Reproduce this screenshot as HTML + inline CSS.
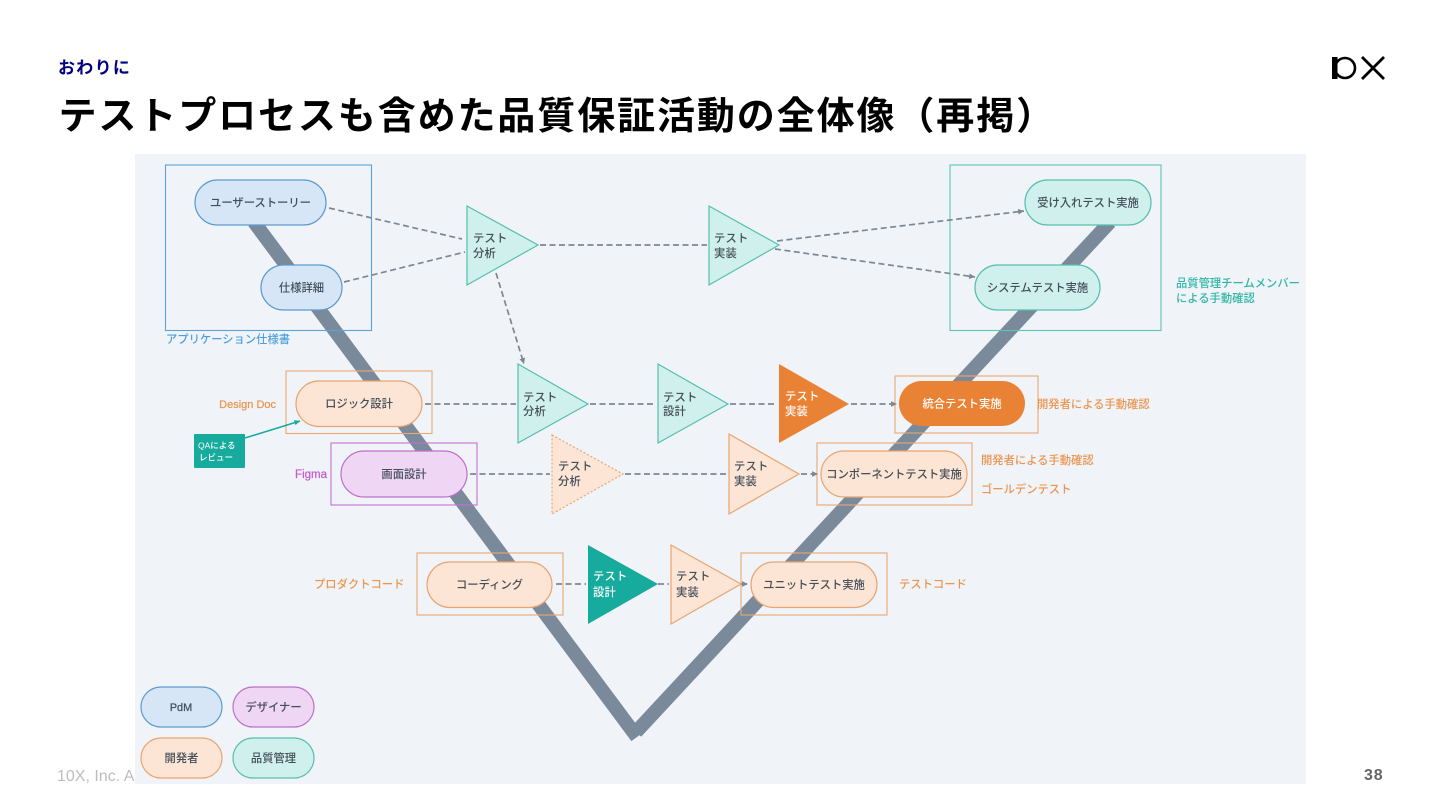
<!DOCTYPE html>
<html lang="ja"><head><meta charset="utf-8"><title>テストプロセスも含めた品質保証活動の全体像（再掲）</title>
<style>
html,body{margin:0;padding:0;background:#fff;width:1440px;height:810px;overflow:hidden}
svg{display:block;position:absolute;left:0;top:0}
text{font-family:"Liberation Sans","Noto Sans CJK JP",sans-serif}
.n{font-size:11.3px;fill:#444e5a;text-anchor:middle;dominant-baseline:central;font-weight:500}
.t{font-size:11.3px;fill:#444e5a;dominant-baseline:central;letter-spacing:.2px;font-weight:500}
.w{fill:#fff}
.l{font-size:11.3px;dominant-baseline:central;font-weight:500}
.d{stroke:#7d8794;stroke-width:1.7;stroke-dasharray:6 3.500;fill:none}
.blue{fill:#d6e6f7;stroke:#5b9bd0;stroke-width:1.2}
.mag{fill:#f0d6f5;stroke:#bd6fcb;stroke-width:1.2}
.or{fill:#fce5d4;stroke:#e9a471;stroke-width:1.2}
.te{fill:#cff0ec;stroke:#55bfb0;stroke-width:1.2}
.dia{filter:blur(.3px)}
</style></head><body>
<svg width="1440" height="810" viewBox="0 0 1440 810" xmlns="http://www.w3.org/2000/svg">
<defs><marker id="a" markerWidth="4" markerHeight="4" refX="3.500" refY="2" orient="auto"><path d="M0 .3L3.500 2L0 3.700z" fill="#7d8794"/></marker>
<marker id="b" markerWidth="4" markerHeight="4" refX="3.500" refY="2" orient="auto"><path d="M0 .3L3.500 2L0 3.700z" fill="#16ab9c"/></marker></defs>

<text x="58" y="68" font-size="17" font-weight="700" fill="#000080" letter-spacing="1.300" dominant-baseline="central">おわりに</text>
<text x="58.500" y="117" font-size="38" font-weight="700" fill="#000" letter-spacing="1.900" dominant-baseline="central">テストプロセスも含めた品質保証活動の全体像（再掲）</text>

<rect x="1332" y="57" width="5.500" height="22" fill="#000"/>
<circle cx="1345" cy="68" r="10" fill="none" stroke="#000" stroke-width="2.600"/>
<path d="M1362 57L1384 79M1384 57L1362 79" stroke="#000" stroke-width="2.800" fill="none"/>

<text x="57" y="781" font-size="16" fill="#bdbdbd">10X, Inc. A</text>
<text x="1364" y="780" font-size="16" font-weight="700" fill="#666" letter-spacing=".8">38</text>

<rect x="135" y="154" width="1171" height="630" fill="#f0f4f8"/>

<g class="dia">
<path d="M254 222L637 737" stroke="#7a8a9b" stroke-width="14" fill="none"/>
<path d="M1110 222L636 732" stroke="#7a8a9b" stroke-width="14" fill="none"/>

<g fill="none" stroke-width="1.100">
<rect x="165.500" y="165" width="206" height="165.500" stroke="#5ba3dc"/>
<rect x="950" y="165" width="211" height="165.500" stroke="#5cc4b6"/>
<rect x="286" y="371" width="146" height="62.500" stroke="#eba873"/>
<rect x="331" y="443" width="146" height="62" stroke="#c46fd0"/>
<rect x="417" y="553" width="146" height="62" stroke="#eba873"/>
<rect x="741" y="553" width="146" height="62" stroke="#eba873"/>
<rect x="817" y="443" width="155" height="62" stroke="#eba873"/>
<rect x="895" y="376" width="143" height="57" stroke="#eba873"/>
</g>

<g class="d">
<path d="M329 208L462 239"/>
<path d="M344 282L465 252"/>
<path d="M540 245L707 245"/>
<path d="M496 273L524 364" marker-end="url(#a)"/>
<path d="M777 241L1024 211" marker-end="url(#a)"/>
<path d="M775 249L975 277" marker-end="url(#a)"/>
<path d="M425 404L516 404"/>
<path d="M590 404L656 404"/>
<path d="M730 404L777 404"/>
<path d="M851 404L897 404" marker-end="url(#a)"/>
<path d="M470 474L550 474"/>
<path d="M625 474L727 474"/>
<path d="M801 474L818 474" marker-end="url(#a)"/>
<path d="M556 584L586 584"/>
<path d="M658 584L669 584"/>
<path d="M741 584L748 584" marker-end="url(#a)"/>
</g>
<path d="M245 438L300 421" stroke="#16ab9c" stroke-width="1.600" fill="none" marker-end="url(#b)"/>
<rect x="194" y="434" width="51" height="34" rx="1" fill="#16ab9c"/>
<text x="198" y="445.500" font-size="8.500" font-weight="500" fill="#fff" dominant-baseline="central">QAによる</text>
<text x="199" y="457.500" font-size="8.500" font-weight="500" fill="#fff" dominant-baseline="central">レビュー</text>

<polygon class="te" points="467,206 538,245 467,285"/>
<polygon class="te" points="709,206 779,245 709,285"/>
<polygon class="te" points="518,364 588,404 518,443"/>
<polygon class="te" points="658,364 728,404 658,443"/>
<polygon points="779,364 849,404 779,443" fill="#ea8236"/>
<polygon class="or" points="552,435 623,474 552,514" stroke-dasharray="2 2"/>
<polygon class="or" points="729,434 799,474 729,514"/>
<polygon points="588,545 658,584 588,624" fill="#16ab9c"/>
<polygon class="or" points="671,545 741,584 671,624"/>

<text class="t" x="473" y="239">テスト</text><text class="t" x="473" y="254">分析</text>
<text class="t" x="714" y="239">テスト</text><text class="t" x="714" y="254">実装</text>
<text class="t" x="523" y="398">テスト</text><text class="t" x="523" y="412">分析</text>
<text class="t" x="663" y="398">テスト</text><text class="t" x="663" y="412">設計</text>
<text class="t w" x="785" y="397">テスト</text><text class="t w" x="785" y="412">実装</text>
<text class="t" x="558" y="467">テスト</text><text class="t" x="558" y="482">分析</text>
<text class="t" x="734" y="467">テスト</text><text class="t" x="734" y="482">実装</text>
<text class="t w" x="593" y="577">テスト</text><text class="t w" x="593" y="593">設計</text>
<text class="t" x="676" y="577">テスト</text><text class="t" x="676" y="593">実装</text>

<rect class="blue" x="195" y="180" width="131" height="45" rx="22.500"/>
<rect class="blue" x="261" y="265" width="81" height="45" rx="22.500"/>
<rect class="or" x="296" y="381" width="126" height="45.500" rx="22.700"/>
<rect class="mag" x="341" y="451" width="126" height="46" rx="23"/>
<rect class="or" x="427" y="562" width="125" height="45.500" rx="22.700"/>
<rect class="or" x="751" y="562" width="126" height="45.500" rx="22.700"/>
<rect class="or" x="821" y="451" width="146" height="46" rx="23"/>
<rect x="899" y="381" width="126" height="45" rx="22.500" fill="#ea8236"/>
<rect class="te" x="975" y="265" width="125" height="45" rx="22.500"/>
<rect class="te" x="1025" y="180" width="126" height="45" rx="22.500"/>
<rect class="blue" x="141" y="687" width="81" height="40" rx="20"/>
<rect class="mag" x="233" y="687" width="81" height="40" rx="20"/>
<rect class="or" x="141" y="738" width="81" height="40" rx="20"/>
<rect class="te" x="233" y="738" width="81" height="40" rx="20"/>

<text class="n" x="260.500" y="203.500">ユーザーストーリー</text>
<text class="n" x="301.500" y="288.500">仕様詳細</text>
<text class="n" x="359" y="404.500">ロジック設計</text>
<text class="n" x="404" y="475">画面設計</text>
<text class="n" x="489.500" y="585.500">コーディング</text>
<text class="n" x="814" y="585.500">ユニットテスト実施</text>
<text class="n" x="894" y="475">コンポーネントテスト実施</text>
<text class="n w" x="962" y="404.500">統合テスト実施</text>
<text class="n" x="1037.500" y="288.500">システムテスト実施</text>
<text class="n" x="1088" y="203.500">受け入れテスト実施</text>
<text class="n" x="181" y="708" style="font-size:11px;font-weight:400;stroke:#444e5a;stroke-width:.25">PdM</text>
<text class="n" x="273.500" y="708">デザイナー</text>
<text class="n" x="181.500" y="759">開発者</text>
<text class="n" x="273.500" y="759">品質管理</text>

<text class="l" x="166" y="340" fill="#4f9fdc">アプリケーション仕様書</text>
<text class="l" x="276" y="405" fill="#ea9550" text-anchor="end" style="font-size:11px;font-weight:400;stroke:#ea9550;stroke-width:.25">Design Doc</text>
<text class="l" x="327" y="475" fill="#c65bcf" text-anchor="end" style="font-size:11.500px;font-weight:400;stroke:#c65bcf;stroke-width:.25">Figma</text>
<text class="l" x="314" y="585" fill="#ea9550">プロダクトコード</text>
<text class="l" x="899" y="585" fill="#ea9550">テストコード</text>
<text class="l" x="1037" y="405" fill="#ea9550">開発者による手動確認</text>
<text class="l" x="981" y="461" fill="#ea9550">開発者による手動確認</text>
<text class="l" x="981" y="490" fill="#ea9550">ゴールデンテスト</text>
<text class="l" x="1176" y="284" fill="#2fb5a6">品質管理チームメンバー</text>
<text class="l" x="1176" y="299" fill="#2fb5a6">による手動確認</text>
</g>
</svg>
</body></html>
